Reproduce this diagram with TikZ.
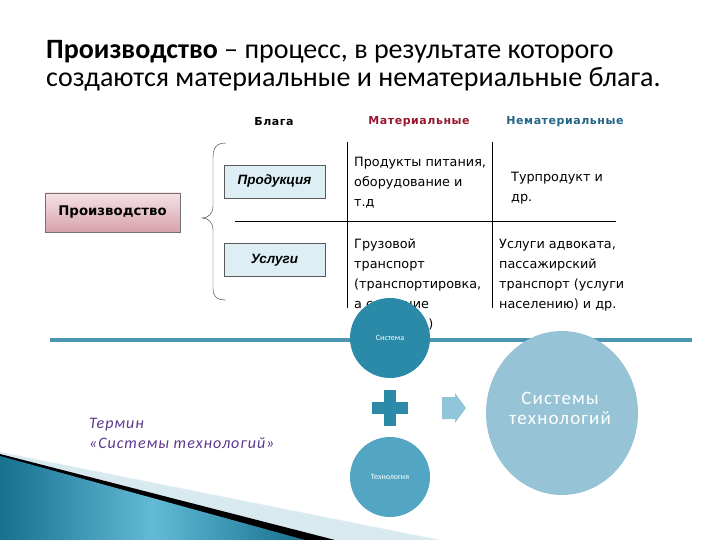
\documentclass[tikz,border=0pt]{standalone}
\usepackage{fontspec}
\setmainfont{Carlito}
\newfontfamily\widefont[LetterSpace=6]{Carlito}
\newfontfamily\tabfont{DejaVu Sans}
\newfontfamily\hdrfont[LetterSpace=5]{DejaVu Sans}
\newfontfamily\boxfont{Liberation Sans}
\usetikzlibrary{positioning, shapes.geometric, calc}
\definecolor{matred}{RGB}{150,25,45}
\definecolor{nonblue}{RGB}{35,100,135}
\definecolor{systeal}{RGB}{42,138,168}
\definecolor{techteal}{RGB}{82,166,196}
\definecolor{bigblue}{RGB}{150,195,214}
\definecolor{arrowblue}{RGB}{145,197,218}
\definecolor{linecol}{RGB}{75,151,179}
\definecolor{boxblue}{RGB}{221,238,245}
\definecolor{pinktop}{RGB}{246,226,229}
\definecolor{pinkbot}{RGB}{214,162,172}
\definecolor{termpurple}{RGB}{90,55,140}
\definecolor{bandblue}{RGB}{216,233,240}
\definecolor{deepteal}{RGB}{22,112,142}
\definecolor{skyteal}{RGB}{98,186,214}

\begin{document}
\begin{tikzpicture}[x=1pt, y=-1pt,
    goodbox/.style={draw=black!65, fill=boxblue, minimum width=101pt, minimum height=33pt,
        font=\boxfont\bfseries\itshape\fontsize{13.5}{14}\selectfont},
    hdr/.style={font=\hdrfont\bfseries\fontsize{11}{12}\selectfont},
    cell/.style={anchor=north west, align=left, inner sep=0pt,
        font=\tabfont\fontsize{12.8}{20}\selectfont},
    bubble/.style={circle, minimum size=80pt, inner sep=0pt, text=white,
        font=\fontsize{8}{9}\selectfont}]
    \useasboundingbox (0,0) rectangle (720,540);

    % BOTTOM LEFT CORNER
    \fill[bandblue] (0,452) -- (440,540) -- (0,540) -- cycle;
    \fill[black] (0,454) -- (335,540) -- (0,540) -- cycle;
    \shade[left color=deepteal, right color=deepteal, middle color=skyteal]
        (0,456) -- (305,540) -- (0,540) -- cycle;

    % TITLE
    \node[anchor=north west, align=left, inner sep=0pt,
        font=\fontsize{28}{28}\selectfont] (title) at (46,40)
        {\textbf{Производство} – процесс, в результате которого\\
         создаются материальные и нематериальные блага.};

    % COLUMN HEADS
    \foreach \x/\m/\c [count=\i] in {
        274/Блага/black, 419/Материальные/matred, 565/Нематериальные/nonblue}
        \node[hdr, text=\c] (hdr\i) at (\x,122) {\m};

    % TABLE LINES
    \coordinate (v1top) at (347,142);
    \coordinate (v1bot) at (347,308);
    \coordinate (v2top) at (492,142);
    \coordinate (v2bot) at (492,308);
    \coordinate (hleft) at (235,221);
    \coordinate (hright) at (616,221);
    \draw (v1top) -- (v1bot);
    \draw (v2top) -- (v2bot);
    \draw (hleft) -- (hright);

    % CELLS
    \foreach \x/\y/\m [count=\i] in {
        354/157/{Продукты питания,\\оборудование и\\т.д},    %   material goods
        511/172/{Турпродукт и\\др.},                          %   non-material goods
        354/239/{Грузовой\\транспорт\\(транспортировка,\\а создание\\услуг и пр.)},
        499/239/{Услуги адвоката,\\пассажирский\\транспорт (услуги\\населению) и др.}}
        \node[cell] (cell\i) at (\x,\y) {\m};

    % GOODS
    \node[goodbox] (prod) at (274.5,181.5) {Продукция};
    \node[goodbox] (serv) at (274.5,260) {Услуги};
    \node[draw=black!55, top color=pinktop, bottom color=pinkbot,
        minimum width=135pt, minimum height=39pt,
        font=\tabfont\bfseries\fontsize{13.3}{14}\selectfont] (proizv) at (112.5,212.5) {Производство};

    % BRACE
    \coordinate (btop) at (226,143);
    \coordinate (bbot) at (226,300);
    \coordinate (btip) at (202,218);
    \draw[black!80] (btop) .. controls (216,143) and (213,148) .. (213,158)
        -- (213,206) .. controls (213,214) and (208,218) .. (btip)
        .. controls (208,218) and (213,222) .. (213,230)
        -- (213,288) .. controls (213,296) and (216,300) .. (bbot);

    % SYSTEM OF TECHNOLOGIES
    \coordinate (lleft) at (50,340);
    \coordinate (lright) at (692,340);
    \draw[linecol, line width=4pt] (lleft) -- (lright);

    \node[bubble, fill=systeal] (sys) at (390,338) {Система};
    \node[bubble, fill=techteal] (tech) at (390,477) {Технология};
    \coordinate (plus) at ($(sys)!0.5!(tech)$);
    \fill[systeal] ($(plus)+(-6,-18)$) rectangle ($(plus)+(6,18)$);
    \fill[systeal] ($(plus)+(-18,-6)$) rectangle ($(plus)+(18,6)$);
    \coordinate (arr) at (442,408);
    \fill[arrowblue] ($(arr)+(0,-11)$) -- ++(13,0) -- ++(0,-4) -- ($(arr)+(24,0)$)
        -- ($(arr)+(13,15)$) -- ++(0,-4) -- ($(arr)+(0,11)$) -- cycle;
    \node[ellipse, fill=bigblue, minimum width=152pt, minimum height=164pt,
        inner sep=0pt] (big) at (562,413) {};
    \node[align=center, text=white, font=\widefont\fontsize{19}{20}\selectfont]
        (bigtext) at ($(big.center)+(-2,-5)$) {Системы\\технологий};

    \node[anchor=north west, align=left, inner sep=0pt, text=termpurple,
        font=\widefont\itshape\fontsize{16}{20}\selectfont] (term) at (89,418)
        {Термин\\«Системы технологий»};
\end{tikzpicture}
\end{document}
